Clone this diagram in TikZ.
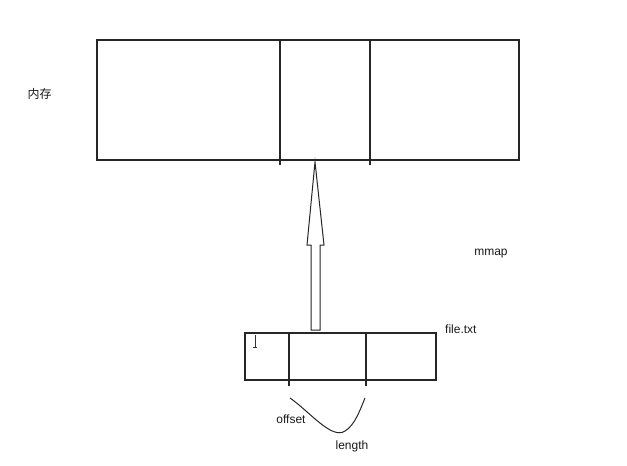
\documentclass[tikz,border=0pt]{standalone}
\usepackage{fontspec}
\setmainfont{Liberation Sans}
\newfontfamily\cjk{Noto Sans CJK SC}
\begin{document}
\begin{tikzpicture}[x=1pt,y=-1pt,
  ln/.style={draw=black!85, line width=1.1pt},
  box/.style={ln, rectangle, inner sep=0pt},
  lbl/.style={font=\fontsize{12}{14}\selectfont, text=black!90, inner sep=0pt}]
\useasboundingbox (0,0) rectangle (627,466);
% memory box
\node[box, minimum width=422pt, minimum height=120pt] (mem) at (308,100) {};
\coordinate (m1t) at (280,40); \coordinate (m1b) at (280,165);
\coordinate (m2t) at (370,40); \coordinate (m2b) at (370,165);
\draw[ln] (m1t) -- (m1b);
\draw[ln] (m2t) -- (m2b);
\node[lbl] (memlbl) at (39.5,94) {\cjk 内存};
% file box
\node[box, minimum width=191pt, minimum height=47pt] (file) at (340.5,356.5) {};
\coordinate (f1t) at (289,333); \coordinate (f1b) at (289,386);
\coordinate (f2t) at (366,333); \coordinate (f2b) at (366,386);
\draw[ln] (f1t) -- (f1b);
\draw[ln] (f2t) -- (f2b);
\node[lbl, anchor=west] (fname) at (445,329) {file.txt};
% cursor mark
\draw[line width=0.8pt, black!80] (255,335) -- (255,347) (253,347) -- (257,347);
% arrow (hollow)
\draw[ln, line width=1pt, fill=white]
  (315,162) -- (324,245) -- (320,245) -- (320,330) -- (311,330) -- (311,245) -- (307,245) -- cycle;
\node[lbl] (mmap) at (491,254) {mmap};
% offset/length curve
\coordinate (c0) at (290,398);
\coordinate (c1) at (365,398);
\draw[ln, line width=1pt] (c0) .. controls (310,412) and (332,440) .. (345,431) .. controls (355,425) and (360,410) .. (c1);
\node[lbl] (off) at (291,419) {offset};
\node[lbl] (len) at (352,446) {length};
\end{tikzpicture}
\end{document}
